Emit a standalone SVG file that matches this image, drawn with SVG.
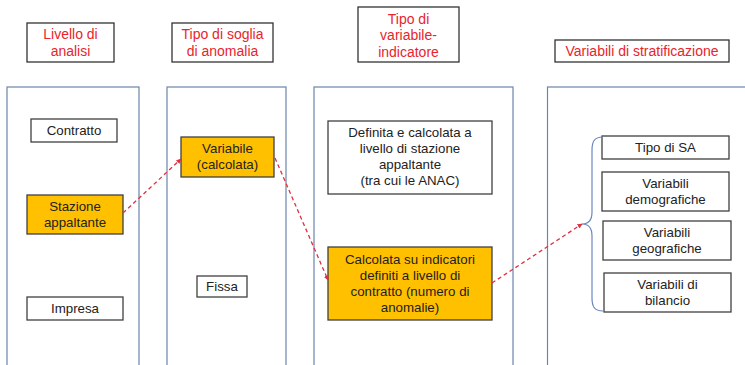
<svg xmlns="http://www.w3.org/2000/svg" width="745" height="365" viewBox="0 0 745 365">
<style>
text{font-family:"Liberation Sans",Arial,sans-serif;font-size:13.3px;fill:#222;text-anchor:middle}
.h text{fill:#E8242C;font-size:14px}
.hbox{fill:#fff;stroke:#333;stroke-width:1.3}
.col{fill:#fff;stroke:#6a86ab;stroke-width:1.2}
.box{fill:#fff;stroke:#404040;stroke-width:1.3}
.or{fill:#FFC000;stroke:#404040;stroke-width:1.3}
.arr{fill:none;stroke:#E03040;stroke-width:1.3;stroke-dasharray:4 3;marker-end:url(#ah)}
.brace{fill:none;stroke:#6a86c0;stroke-width:1.2}
</style>
<defs>
<marker id="ah" viewBox="0 0 10 10" refX="9" refY="5" markerWidth="5" markerHeight="5" orient="auto" markerUnits="userSpaceOnUse">
<path d="M0,0 L10,5 L0,10 z" fill="#E03040"/>
</marker>
</defs>
<rect width="745" height="365" fill="#fff"/>
<g id="columns">
<rect id="col1" class="col" x="7" y="87" width="132" height="290"/>
<rect id="col2" class="col" x="167" y="87" width="119" height="290"/>
<rect id="col3" class="col" x="314" y="87" width="199" height="290"/>
<rect id="col4" class="col" x="547.5" y="87" width="220" height="290"/>
</g>
<g id="h1" class="h"><rect class="hbox" x="27" y="23" width="87" height="39"/><text x="70.5" y="39">Livello di</text><text x="70.5" y="56">analisi</text></g>
<g id="h2" class="h"><rect class="hbox" x="172" y="23" width="101" height="39"/><text x="222.5" y="39">Tipo di soglia</text><text x="222.5" y="56">di anomalia</text></g>
<g id="h3" class="h"><rect class="hbox" x="358" y="7" width="101" height="55"/><text x="408.5" y="24">Tipo di</text><text x="408.5" y="40">variabile-</text><text x="408.5" y="57">indicatore</text></g>
<g id="h4" class="h"><rect class="hbox" x="555" y="40" width="174" height="22"/><text x="642" y="56">Variabili di stratificazione</text></g>
<g id="contratto"><rect class="box" x="31" y="119" width="86" height="23"/><text x="74" y="135">Contratto</text></g>
<g id="stazione"><rect class="or" x="27" y="195" width="96" height="39"/><text x="75" y="211">Stazione</text><text x="75" y="227">appaltante</text></g>
<g id="impresa"><rect class="box" x="27" y="297" width="96" height="23"/><text x="75" y="313">Impresa</text></g>
<g id="variabile"><rect class="or" x="181" y="137" width="93" height="40"/><text x="227.5" y="153">Variabile</text><text x="227.5" y="169">(calcolata)</text></g>
<g id="fissa"><rect class="box" x="197" y="276" width="50" height="21"/><text x="222" y="291">Fissa</text></g>
<g id="definita"><rect class="box" x="328" y="121" width="164" height="73"/><text x="410" y="137">Definita e calcolata a</text><text x="410" y="153">livello di stazione</text><text x="410" y="169">appaltante</text><text x="410" y="185">(tra cui le ANAC)</text></g>
<g id="calcolata"><rect class="or" x="328" y="247" width="164" height="73"/><text x="410" y="264">Calcolata su indicatori</text><text x="410" y="280">definiti a livello di</text><text x="410" y="296">contratto (numero di</text><text x="410" y="312">anomalie)</text></g>
<g id="tiposa"><rect class="box" x="602" y="136" width="127" height="23"/><text x="665.5" y="152">Tipo di SA</text></g>
<g id="demo"><rect class="box" x="602" y="172" width="127" height="39"/><text x="665.5" y="188">Variabili</text><text x="665.5" y="204">demografiche</text></g>
<g id="geo"><rect class="box" x="603" y="221" width="128" height="39"/><text x="667" y="237">Variabili</text><text x="667" y="253">geografiche</text></g>
<g id="bil"><rect class="box" x="604" y="273" width="127" height="39"/><text x="667.5" y="289">Variabili di</text><text x="667.5" y="305">bilancio</text></g>
<g id="brace"><path class="brace" d="M603,137 C594,137 592,142 592,150 L592,212 C592,220 588,224 582,224 C588,224 592,228 592,236 L592,298 C592,306 594,311 603,311"/></g>
<g id="connectors">
<path class="arr" d="M123,213 L181,159"/>
<path class="arr" d="M275,158 L328,280"/>
<path class="arr" d="M492,283 L582,224"/>
</g>
</svg>
